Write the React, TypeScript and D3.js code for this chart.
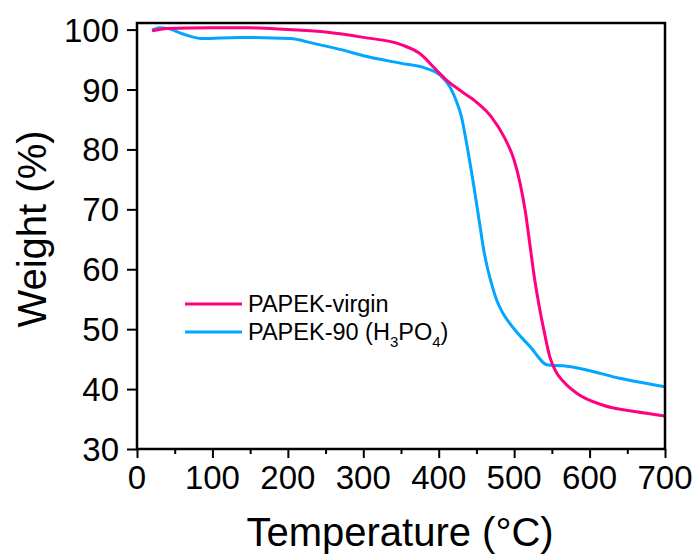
import React, { useEffect, useRef } from 'react';
import * as d3 from 'd3';

// TGA curves
const virginT = [20, 40, 100, 150, 200, 250, 300, 350, 375, 395, 410, 430, 450, 470, 487, 500, 508, 515, 521, 527, 533, 540, 547, 555, 565, 583, 618, 662, 700];
const virginW = [99.8, 100.2, 100.3, 100.3, 100.0, 99.6, 98.7, 97.5, 96.0, 93.5, 91.6, 89.7, 87.9, 85.4, 82.0, 78.2, 74.3, 69.5, 64.0, 58.5, 54.0, 49.5, 45.5, 43.0, 41.3, 39.3, 37.3, 36.2, 35.5];

const acidT = [20, 30, 40, 60, 86, 136, 203, 234, 269, 305, 349, 384, 402, 415, 423, 430, 437, 446, 455, 460, 465, 470, 477, 485, 494, 521, 545, 565, 596, 640, 700];
const acidW = [99.9, 100.3, 100.2, 99.3, 98.5, 98.7, 98.5, 97.7, 96.7, 95.5, 94.4, 93.5, 92.4, 90.4, 88.2, 85.5, 81.0, 74.3, 67.0, 63.0, 60.0, 57.6, 54.8, 52.7, 51.0, 47.1, 44.0, 43.9, 43.2, 41.8, 40.4];

const xTicks = [0, 100, 200, 300, 400, 500, 600, 700];
const yTicks = [30, 40, 50, 60, 70, 80, 90, 100];

const FONT = 'Arial, "Liberation Sans", sans-serif';

const App = () => {
  const ref = useRef<SVGSVGElement>(null);

  useEffect(() => {
    const svg = d3.select(ref.current);
    svg.selectAll('*').remove();

    const left = 137, right = 665, top = 23, bottom = 449;
    const x = d3.scaleLinear().domain([0, 700]).range([left, right]);
    const y = d3.scaleLinear().domain([30, 101.1]).range([bottom, top]);

    const line = d3
      .line<[number, number]>()
      .x((d) => x(d[0]))
      .y((d) => y(d[1]))
      .curve(d3.curveMonotoneX);

    const series = [
      { t: acidT, w: acidW, color: '#00a6ff' },
      { t: virginT, w: virginW, color: '#ff0080' },
    ];
    series.forEach((s) => {
      svg
        .append('path')
        .datum(s.t.map((t, i) => [t, s.w[i]] as [number, number]))
        .attr('d', line)
        .attr('fill', 'none')
        .attr('stroke', s.color)
        .attr('stroke-width', 3);
    });

    // frame
    svg
      .append('rect')
      .attr('x', left)
      .attr('y', top)
      .attr('width', right - left)
      .attr('height', bottom - top)
      .attr('fill', 'none')
      .attr('stroke', '#000')
      .attr('stroke-width', 2.5);

    const xAxis = svg
      .append('g')
      .attr('transform', `translate(0,${bottom})`)
      .call(d3.axisBottom(x).tickValues(d3.range(0, 701, 50)).tickSize(8).tickFormat(() => ''));
    xAxis.select('.domain').remove();
    xAxis.selectAll('.tick line')
      .attr('stroke-width', 2)
      .attr('y2', (d: any) => (d % 100 === 0 ? 9 : 5));

    svg
      .append('g')
      .selectAll('text')
      .data(xTicks)
      .enter()
      .append('text')
      .attr('x', (d) => x(d))
      .attr('y', 489)
      .attr('text-anchor', 'middle')
      .attr('font-family', FONT)
      .attr('font-size', 33)
      .text((d) => d);

    const yAxis = svg
      .append('g')
      .attr('transform', `translate(${left},0)`)
      .call(d3.axisLeft(y).tickValues(yTicks).tickSize(10).tickFormat(() => ''));
    yAxis.select('.domain').remove();
    yAxis.selectAll('.tick line').attr('stroke-width', 2);

    svg
      .append('g')
      .selectAll('text')
      .data(yTicks)
      .enter()
      .append('text')
      .attr('x', 119)
      .attr('y', (d) => y(d) + 12)
      .attr('text-anchor', 'end')
      .attr('font-family', FONT)
      .attr('font-size', 33)
      .text((d) => d);

    svg
      .append('text')
      .attr('x', 400)
      .attr('y', 546)
      .attr('text-anchor', 'middle')
      .attr('font-family', FONT)
      .attr('font-size', 40)
      .text('Temperature (°C)');

    svg
      .append('text')
      .attr('transform', 'translate(46,229) rotate(-90)')
      .attr('text-anchor', 'middle')
      .attr('font-family', FONT)
      .attr('font-size', 40)
      .text('Weight (%)');

    // legend
    const lg = svg.append('g').attr('font-family', FONT).attr('font-size', 23.5);
    lg.append('line').attr('x1', 185).attr('x2', 242).attr('y1', 304).attr('y2', 304)
      .attr('stroke', '#ff0080').attr('stroke-width', 3);
    lg.append('text').attr('x', 248).attr('y', 312).text('PAPEK-virgin');
    lg.append('line').attr('x1', 185).attr('x2', 242).attr('y1', 332).attr('y2', 332)
      .attr('stroke', '#00a6ff').attr('stroke-width', 3);
    const t2 = lg.append('text').attr('x', 248).attr('y', 340);
    t2.append('tspan').text('PAPEK-90 (H');
    t2.append('tspan').attr('font-size', 15).attr('dy', 7).text('3');
    t2.append('tspan').attr('dy', -7).text('PO');
    t2.append('tspan').attr('font-size', 15).attr('dy', 7).text('4');
    t2.append('tspan').attr('dy', -7).text(')');
  }, []);

  return (
    <div style={{ position: 'absolute', left: 0, top: 0 }}>
      <svg ref={ref} width={697} height={556} style={{ display: 'block', background: '#fff' }} />
    </div>
  );
};

export default App;
